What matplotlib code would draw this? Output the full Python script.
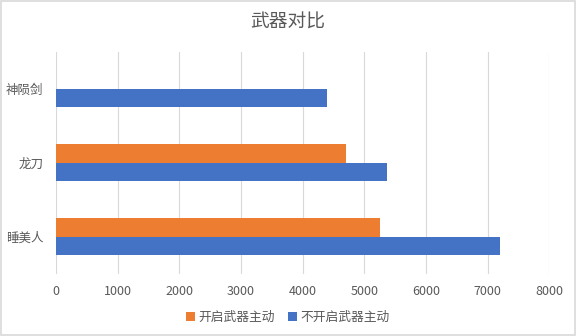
import numpy as np
import matplotlib
matplotlib.use('Agg')
import matplotlib.pyplot as plt
from matplotlib.patches import Rectangle

plt.rcParams['font.family'] = ['Noto Sans CJK SC', 'DejaVu Sans']

# 数据
weapons = ['睡美人', '龙刀', '神陨剑']
on_values = [5250, 4700, 0]        # 开启武器主动（神陨剑无数据）
off_values = [7200, 5370, 4390]    # 不开启武器主动
series_names = ['开启武器主动', '不开启武器主动']
x_ticks = [0, 1000, 2000, 3000, 4000, 5000, 6000, 7000, 8000]

orange = '#ED7D31'
blue = '#4472C4'
grid_c = '#D9D9D9'
text_c = '#595959'

fig = plt.figure(figsize=(5.76, 3.36), dpi=100)
ax = fig.add_axes([0.0972, 0.1854, 0.8565, 0.6607])

y = np.arange(len(weapons))
h = 0.25
ax.barh(y + h / 2, on_values, height=h, color=orange, label=series_names[0], zorder=3)
ax.barh(y - h / 2, off_values, height=h, color=blue, label=series_names[1], zorder=3)

ax.set_xlim(0, 8000)
ax.set_ylim(-0.5, 2.5)
ax.set_xticks(x_ticks)
ax.set_xticklabels([str(v) for v in x_ticks])
ax.set_yticks(y)
ax.set_yticklabels(weapons)
ax.tick_params(axis='both', length=0, labelsize=9, colors=text_c)
ax.tick_params(axis='x', pad=8)
ax.tick_params(axis='y', pad=9)
ax.grid(axis='x', color=grid_c, linewidth=0.8, zorder=0)
for s in ax.spines.values():
    s.set_visible(False)

fig.text(0.5, 1 - 22.5 / 336, '武器对比', ha='center', va='center', fontsize=13.5,
         color=text_c, fontweight='light')

ax.legend(loc='center', bbox_to_anchor=(0.5, 1 - 317 / 336), bbox_transform=fig.transFigure,
          ncol=2, frameon=False, fontsize=9.2, handlelength=0.7, handleheight=0.7,
          handletextpad=0.3, columnspacing=1.0, labelcolor=text_c)

# 图表外框
fig.patches.append(Rectangle((0.002, 0.003), 0.996, 0.994, transform=fig.transFigure,
                             fill=False, edgecolor=grid_c, linewidth=1.2))

fig.savefig('out.png', dpi=100)
